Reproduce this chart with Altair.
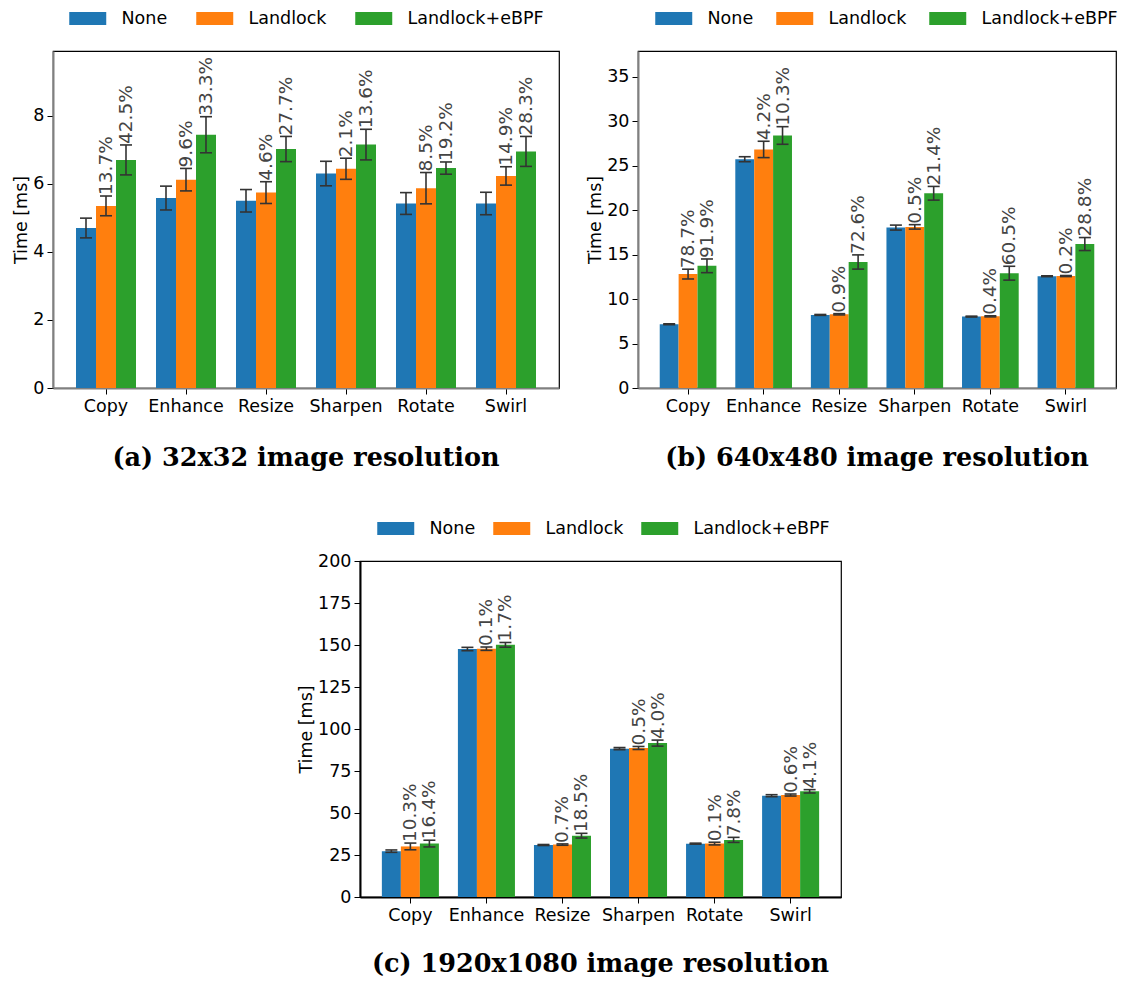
import altair as alt
import pandas as pd

categories = ["Copy", "Enhance", "Resize", "Sharpen", "Rotate", "Swirl"]
series = ["None", "Landlock", "Landlock+eBPF"]
colors = ["#1f77b4", "#ff7f0e", "#2ca02c"]

# (a) 32x32
a_none = [4.70, 5.58, 5.50, 6.30, 5.42, 5.42]
a_none_err = [0.29, 0.35, 0.33, 0.36, 0.32, 0.33]
a_land = [5.35, 6.12, 5.74, 6.44, 5.87, 6.23]
a_land_err = [0.29, 0.33, 0.32, 0.31, 0.46, 0.27]
a_ebpf = [6.70, 7.44, 7.02, 7.15, 6.46, 6.95]
a_ebpf_err = [0.44, 0.53, 0.37, 0.45, 0.18, 0.44]
a_land_pct = ["13.7%", "9.6%", "4.6%", "2.1%", "8.5%", "14.9%"]
a_ebpf_pct = ["42.5%", "33.3%", "27.7%", "13.6%", "19.2%", "28.3%"]

# (b) 640x480
b_none = [7.17, 25.73, 8.22, 18.04, 8.03, 12.57]
b_none_err = [0.05, 0.28, 0.05, 0.28, 0.05, 0.05]
b_land = [12.81, 26.83, 8.29, 18.12, 8.06, 12.59]
b_land_err = [0.55, 0.92, 0.07, 0.25, 0.06, 0.06]
b_ebpf = [13.74, 28.40, 14.17, 21.90, 12.91, 16.19]
b_ebpf_err = [0.77, 0.99, 0.80, 0.77, 0.78, 0.73]
b_land_pct = ["78.7%", "4.2%", "0.9%", "0.5%", "0.4%", "0.2%"]
b_ebpf_pct = ["91.9%", "10.3%", "72.6%", "21.4%", "60.5%", "28.8%"]

# (c) 1920x1080
c_none = [27.3, 147.6, 30.95, 88.3, 31.75, 60.3]
c_none_err = [0.7, 1.0, 0.3, 0.6, 0.3, 0.6]
c_land = [30.1, 147.8, 31.2, 88.7, 31.8, 60.7]
c_land_err = [2.0, 1.0, 0.4, 0.9, 0.8, 0.6]
c_ebpf = [31.8, 150.1, 36.5, 91.6, 34.0, 62.9]
c_ebpf_err = [2.0, 1.4, 1.4, 1.8, 1.5, 1.0]
c_land_pct = ["10.3%", "0.1%", "0.7%", "0.5%", "0.1%", "0.6%"]
c_ebpf_pct = ["16.4%", "1.7%", "18.5%", "4.0%", "7.8%", "4.1%"]

FONT = "DejaVu Sans"


def panel(none, none_err, land, land_err, ebpf, ebpf_err, land_pct, ebpf_pct,
          width, height, ymax, yticks, caption, col_pad, dom_color, lx, ly, cap_off):
    rows = []
    groups = [(none, none_err, [""] * 6, series[0]),
              (land, land_err, land_pct, series[1]),
              (ebpf, ebpf_err, ebpf_pct, series[2])]
    for vals, errs, pcts, s in groups:
        for c, v, e, p in zip(categories, vals, errs, pcts):
            rows.append(dict(cat=c, series=s, value=v, lo=v - e, hi=v + e, label=p))
    df = pd.DataFrame(rows)

    x = alt.X("cat:N", sort=categories, title=None,
              scale=alt.Scale(paddingInner=0.25, paddingOuter=0.2875),
              axis=alt.Axis(labelAngle=0, domainColor=dom_color, domainWidth=2,
                            tickSize=6, labelPadding=3, tickColor="black"))
    xo = alt.XOffset("series:N", sort=series,
                     scale=alt.Scale(paddingInner=0, paddingOuter=0))
    yscale = alt.Scale(domain=[0, ymax], nice=False, zero=True)
    yaxis = alt.Axis(values=yticks, domainColor=dom_color, domainWidth=2,
                     tickSize=6, labelPadding=3, titlePadding=2, tickColor="black")

    base = alt.Chart(df)
    # legend symbol drawn 37 px wide x 13 px tall
    bars = base.mark_bar(opacity=1).encode(
        x=x, xOffset=xo,
        y=alt.Y("value:Q", scale=yscale, axis=yaxis, title="Time [ms]"),
        color=alt.Color("series:N", sort=series,
                        scale=alt.Scale(domain=series, range=colors),
                        legend=alt.Legend(
                            title=None, orient="none", legendX=lx, legendY=ly,
                            direction="horizontal",
                            symbolType="M-1,-0.7H3V0.7H-1Z", symbolSize=342,
                            symbolStrokeWidth=0, symbolOpacity=1,
                            labelFont=FONT, labelFontSize=17.5, labelColor="black",
                            labelOffset=33.5, columnPadding=col_pad, padding=0)),
    )
    rules = base.mark_rule(color="#333333", strokeWidth=1.6).encode(
        x=x, xOffset=xo,
        y=alt.Y("lo:Q", scale=yscale, axis=yaxis, title="Time [ms]"),
        y2="hi:Q",
    )
    cap_lo = base.mark_tick(color="#333333", thickness=1.6, size=12, opacity=1).encode(
        x=x, xOffset=xo,
        y=alt.Y("lo:Q", scale=yscale, axis=yaxis, title="Time [ms]"),
    )
    cap_hi = base.mark_tick(color="#333333", thickness=1.6, size=12, opacity=1).encode(
        x=x, xOffset=xo,
        y=alt.Y("hi:Q", scale=yscale, axis=yaxis, title="Time [ms]"),
    )
    text = base.mark_text(angle=270, align="left", baseline="middle", dx=1, clip=True,
                          font=FONT, fontSize=18.5, color="#444444").encode(
        x=x, xOffset=xo,
        y=alt.Y("hi:Q", scale=yscale, axis=yaxis, title="Time [ms]"),
        text="label:N",
    )
    return alt.layer(bars, rules, cap_lo, cap_hi, text).properties(
        width=width, height=height,
        title=alt.TitleParams(text=caption, orient="bottom", anchor="middle",
                              font="DejaVu Serif", fontWeight="bold",
                              fontSize=25.5, color="black", offset=cap_off),
    )


pa = panel(a_none, a_none_err, a_land, a_land_err, a_ebpf, a_ebpf_err,
           a_land_pct, a_ebpf_pct, 506, 337, 9.9, [0, 2, 4, 6, 8],
           "(a) 32x32 image resolution", 28, "#808080", 16, -42, 31)
pb = panel(b_none, b_none_err, b_land, b_land_err, b_ebpf, b_ebpf_err,
           b_land_pct, b_ebpf_pct, 478, 337, 37.9, [0, 5, 10, 15, 20, 25, 30, 35],
           "(b) 640x480 image resolution", 22, "#808080", 17, -42, 31)
pc = panel(c_none, c_none_err, c_land, c_land_err, c_ebpf, c_ebpf_err,
           c_land_pct, c_ebpf_pct, 481, 336, 200, [0, 25, 50, 75, 100, 125, 150, 175, 200],
           "(c) 1920x1080 image resolution", 17, "black", 17, -42, 28)

# invisible spacer that shifts panel (c) to the right
spacer = alt.Chart(pd.DataFrame({"v": [0]})).mark_point(opacity=0).encode(
    x=alt.X("v:Q", axis=None), y=alt.Y("v:Q", axis=None)
).properties(width=242, height=1, view=alt.ViewBackground(stroke="transparent"))

res = dict(color="independent", x="independent", y="independent", xOffset="independent")
top = alt.hconcat(pa, pb, spacing=26).resolve_scale(**res).resolve_legend(color="independent")
bottom = alt.hconcat(spacer, pc, spacing=0).resolve_scale(**res).resolve_legend(color="independent")
chart = alt.vconcat(top, bottom, spacing=46).resolve_scale(**res).resolve_legend(
    color="independent"
).properties(
    padding={"left": 4, "top": 0, "right": 0, "bottom": 0}
).configure_view(stroke="black", strokeWidth=1.2).configure_axis(
    labelFont=FONT, titleFont=FONT, labelFontSize=17.5, titleFontSize=17.5,
    labelColor="black", titleColor="black", titleFontWeight="normal", grid=False
)

chart.save("out.html", embed_options={"renderer": "svg", "actions": False})
